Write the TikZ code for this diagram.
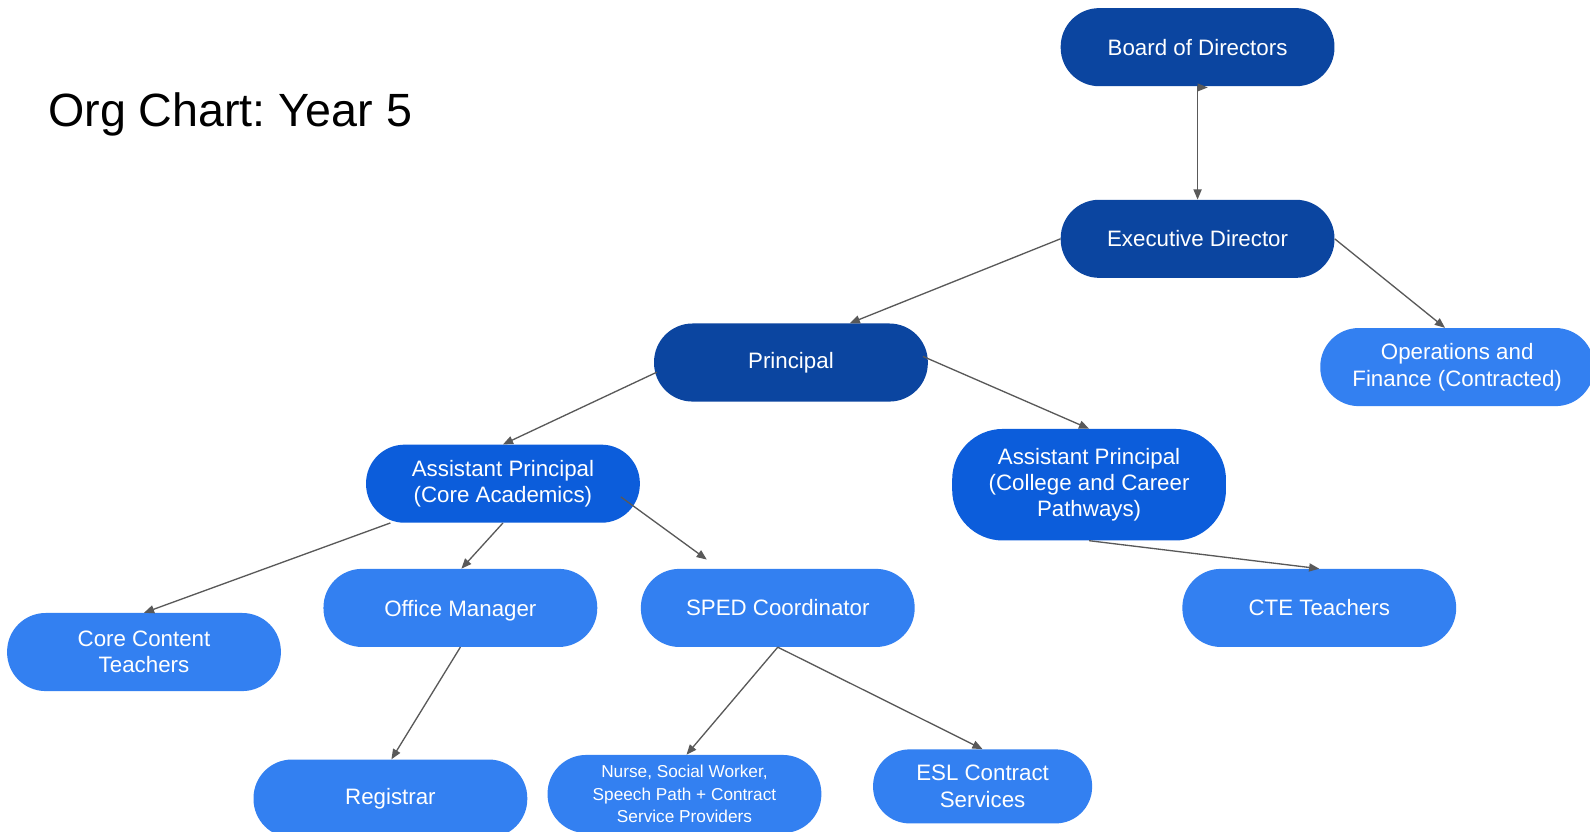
\documentclass[tikz,border=0pt]{standalone}
\usepackage{fontspec}
\setmainfont{Liberation Sans}
\usetikzlibrary{calc,arrows.meta}
\frenchspacing
\definecolor{orgdark}{HTML}{0B45A0}
\definecolor{orgmid}{HTML}{0C5DDB}
\definecolor{orglight}{HTML}{3380F1}
\definecolor{orgline}{HTML}{595959}
\tikzset{
  orgbox/.style={rectangle, rounded corners=38pt, minimum width=270pt, minimum height=77pt,
    inner sep=0pt, text=white, align=center, font=\fontsize{22}{26}\selectfont},
  orgdarkbox/.style={orgbox, fill=orgdark},
  orgmidbox/.style={orgbox, fill=orgmid},
  orglightbox/.style={orgbox, fill=orglight},
  orgarrow/.style={draw=orgline, line width=1.3pt, -{Triangle[length=10pt,width=8pt]}},
}
\begin{document}
\begin{tikzpicture}[x=1pt, y=-1pt]
\useasboundingbox[fill=white] (0,0) rectangle (1568,820);
\node[anchor=base west, font=\fontsize{46}{50}\selectfont] (title) at (44,125) {Org Chart: Year 5};
\node[orgdarkbox] (brd) at (1181,46.5) {Board of Directors};
\node[orgdarkbox] (exec) at (1181,235.5) {Executive Director};
\node[orgdarkbox] (princ) at (780,357.5) {Principal};
\node[orglightbox] (ops) at (1437,362) {Operations and\\Finance (Contracted)};
\node[orgmidbox] (apc) at (496,477) {Assistant Principal\\(Core Academics)};
\node[orgmidbox, minimum height=110pt, rounded corners=50pt] (ccp) at (1074,478) {Assistant Principal\\(College and Career\\Pathways)};
\node[orglightbox] (core) at (142,643) {Core Content\\Teachers};
\node[orglightbox, text depth=0pt] (ofc) at (454,599.5) {Office Manager};
\node[orglightbox] (sped) at (767,599.5) {SPED Coordinator};
\node[orglightbox] (cte) at (1301,599.5) {CTE Teachers};
\node[orglightbox] (reg) at (385,787.5) {Registrar};
\node[orglightbox, font=\fontsize{17}{22}\selectfont] (nurse) at (675,783) {Nurse, Social Worker,\\Speech Path + Contract\\Service Providers};
\node[orglightbox, minimum width=216pt, minimum height=73pt, rounded corners=36pt] (esl) at (969,775.5) {ESL Contract\\Services};
\coordinate (spedend) at ($(sped.north)+(-70,-9)$);
% connectors
\draw[orgarrow] (brd.south) -- (exec.north);
\fill[orgline] ($(brd.south)+(0,-3)$) -- ++(10,4) -- ++(-10,4) -- cycle;
\draw[orgarrow] (exec.west) -- ($(princ.north)+(58,0)$);
\draw[orgarrow] (exec.east) -- ($(ops.north)+(-12,0)$);
\draw[orgarrow] ($(princ.west)+(3,9.5)$) -- (apc.north);
\draw[orgarrow] ($(princ.east)+(-5,-6)$) -- (ccp.north);
\draw[orgarrow] ($(apc.south)+(-111,0)$) -- (core.north);
\draw[orgarrow] (apc.south) -- ($(ofc.north)+(1,0)$);
\draw[orgarrow] ($(apc.east)+(-19,13)$) -- (spedend);
\draw[orgarrow] (ccp.south) -- (cte.north);
\draw[orgarrow] (ofc.south) -- ($(reg.north)+(1,0)$);
\draw[orgarrow] (sped.south) -- ($(nurse.north)+(2,0)$);
\draw[orgarrow] (sped.south) -- (esl.north);
\end{tikzpicture}
\end{document}
